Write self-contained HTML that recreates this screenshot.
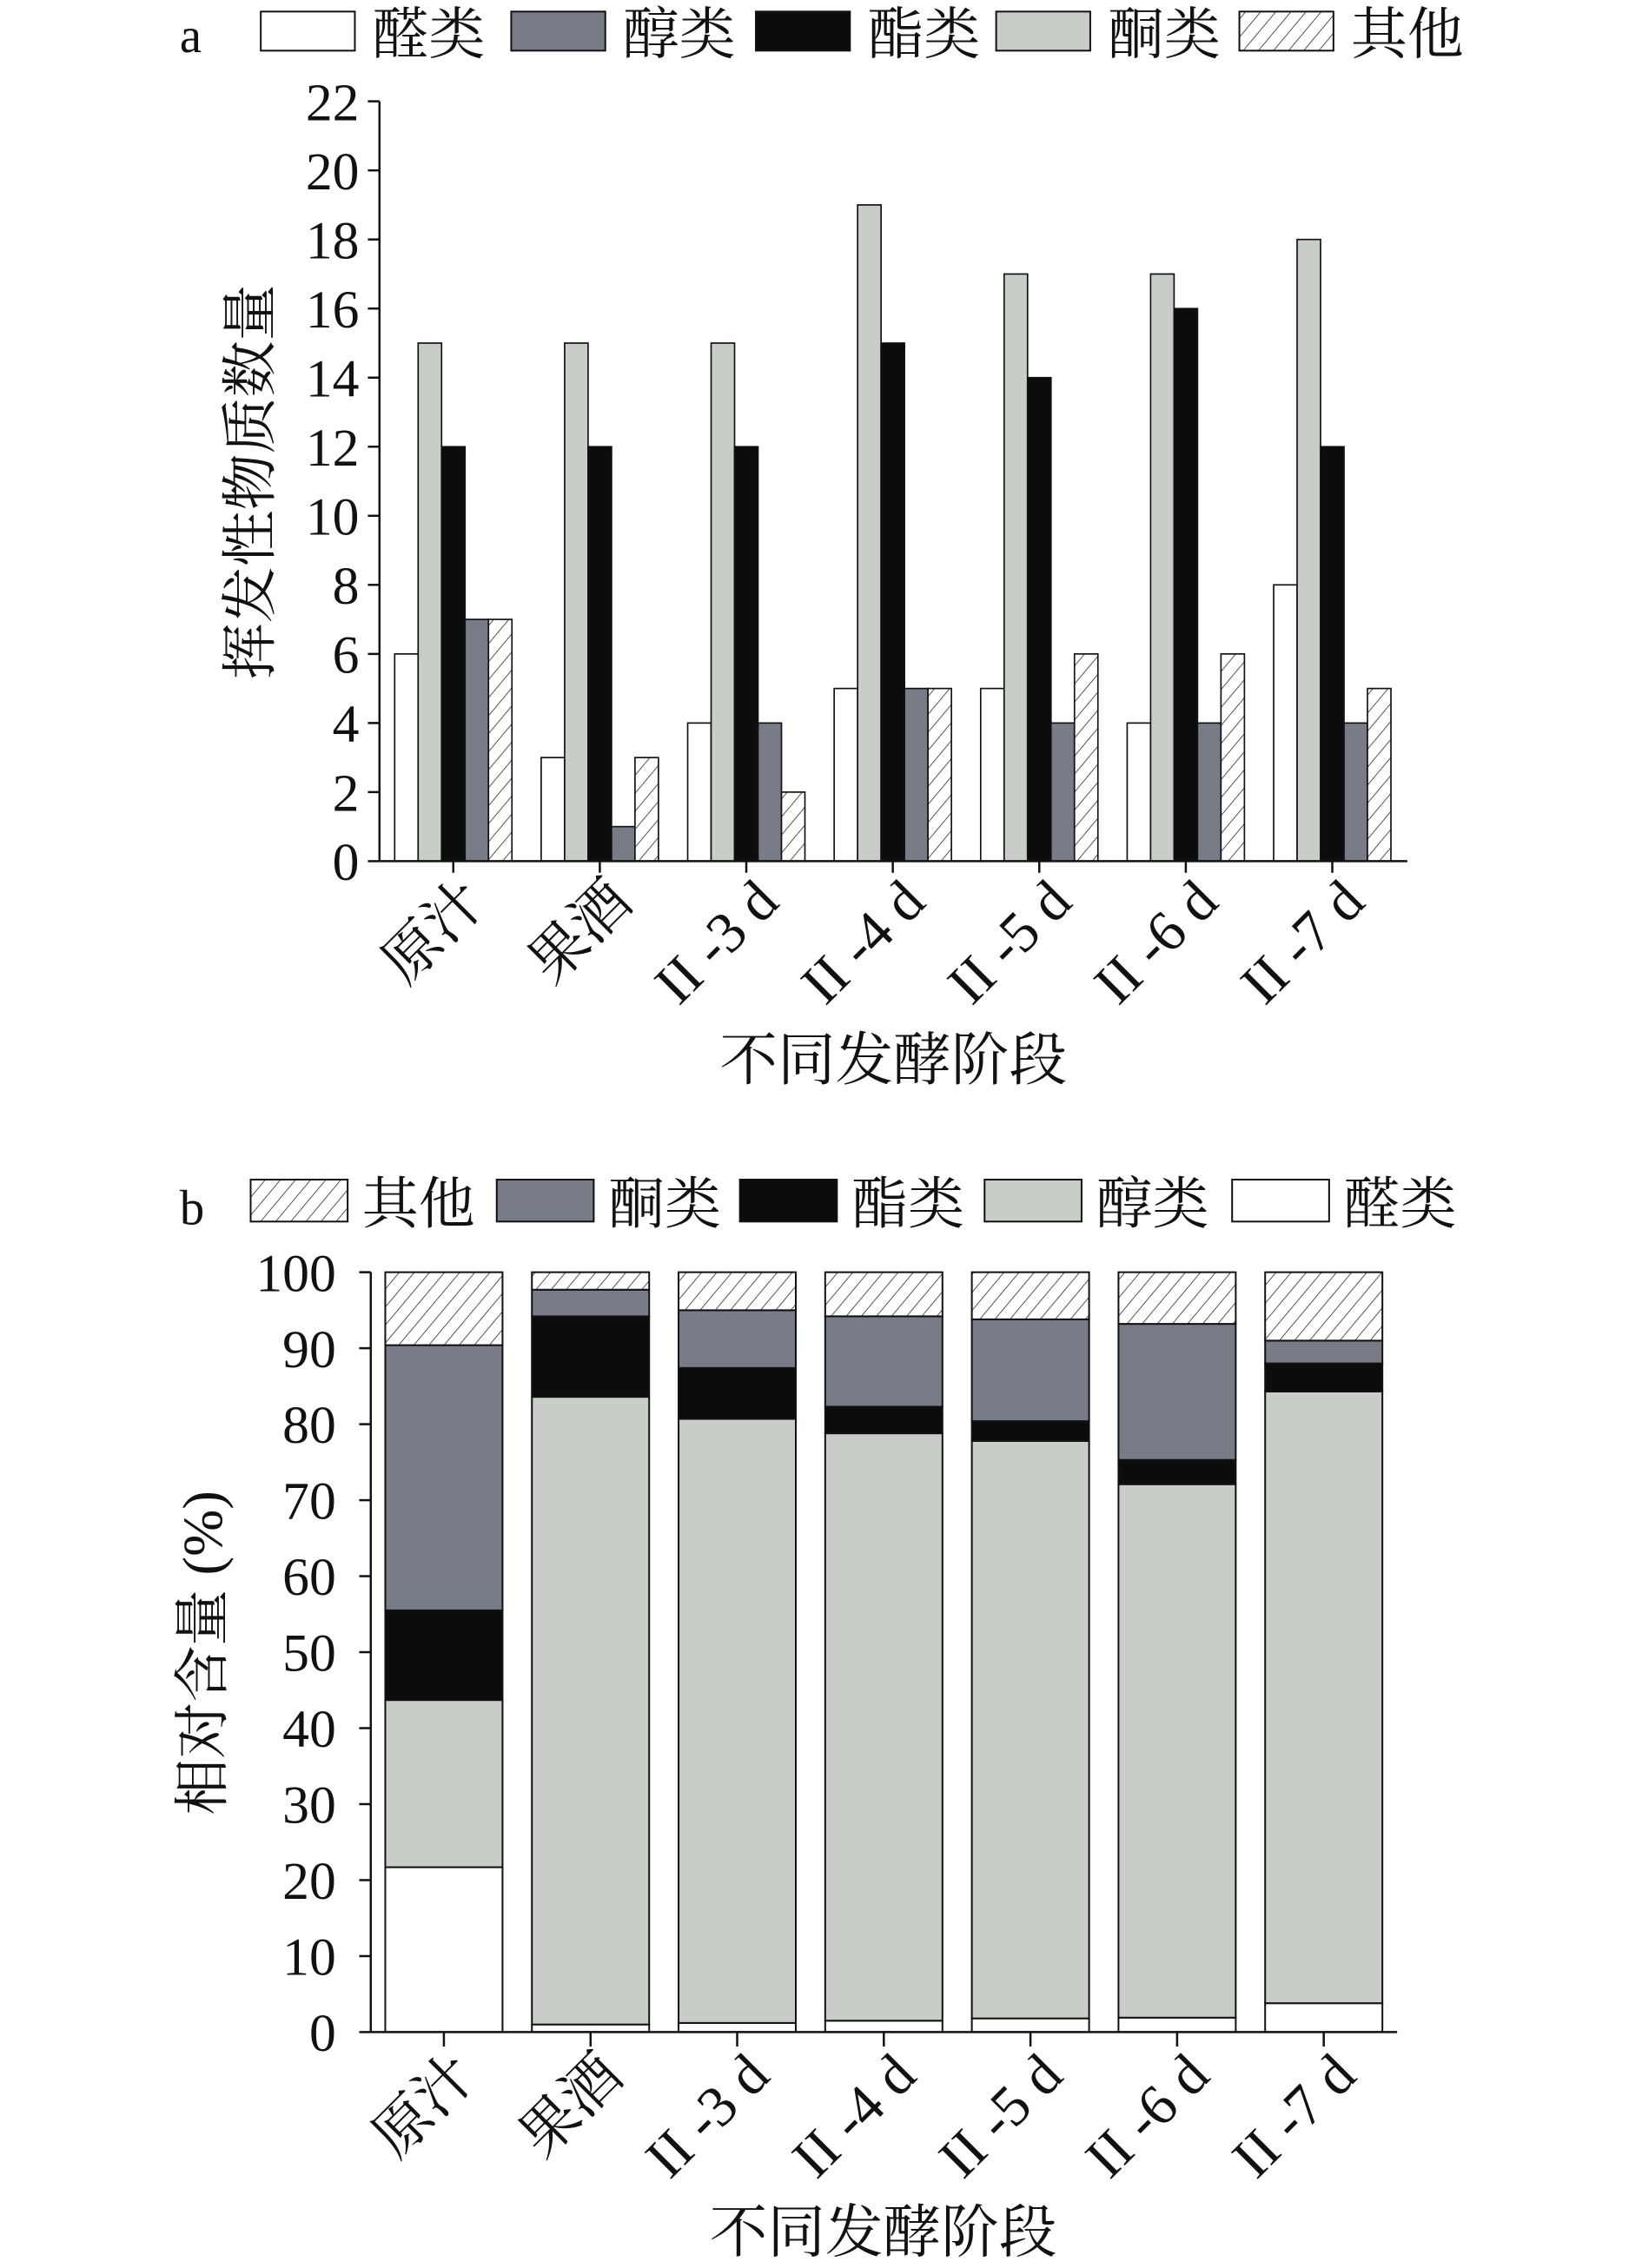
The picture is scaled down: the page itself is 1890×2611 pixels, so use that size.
<!DOCTYPE html>
<html><head><meta charset="utf-8"><style>
html,body{margin:0;padding:0;background:#fff;}
svg{display:block;}
text{font-family:"Liberation Serif","Noto Serif CJK SC","Noto Sans CJK SC",serif;fill:#111;}
</style></head><body>
<svg id="fig" width="1890" height="2611" viewBox="0 0 1134 1567" xmlns="http://www.w3.org/2000/svg">
<defs>
<pattern id="hatch" patternUnits="userSpaceOnUse" width="8" height="8" patternTransform="rotate(40)">
<rect width="8" height="8" fill="#fff"/><line x1="0" y1="0" x2="0" y2="8" stroke="#333" stroke-width="1"/>
</pattern>
</defs>
<g id="chartA"></g>
<g id="chartB"></g>
</svg>
<script>
const categories = ["原汁","果酒","II -3 d","II -4 d","II -5 d","II -6 d","II -7 d"];
// chart a: counts
const aAldehyde = [6,3,4,5,5,4,8];
const aKetone = [15,15,15,19,17,17,18];
const aEster = [12,12,12,15,14,16,12];
const aAlcohol = [7,1,4,5,4,4,4];
const aOther = [7,3,2,5,6,6,5];
const aTicks = [0,2,4,6,8,10,12,14,16,18,20,22];
// chart b: relative content (%)
const bAldehyde = [21.7,1.0,1.2,1.5,1.8,1.9,3.8];
const bAlcohol = [22.0,82.6,79.5,77.3,76.0,70.2,80.5];
const bEster = [11.8,10.6,6.7,3.5,2.6,3.2,3.7];
const bKetone = [34.9,3.5,7.6,11.9,13.4,17.9,3.0];
const bOther = [9.6,2.3,5.0,5.8,6.2,6.8,9.0];
const bTicks = [0,10,20,30,40,50,60,70,80,90,100];

const NS="http://www.w3.org/2000/svg";
const C={white:"#ffffff",dark:"#777c86",black:"#0c0c0c",light:"#c9cdc7",hatch:"url(#hatch)"};
function mk(parent,tag,attrs,txt){const e=document.createElementNS(NS,tag);for(const k in attrs)e.setAttribute(k,attrs[k]);if(txt!==undefined)e.textContent=txt;parent.appendChild(e);return e;}

// ---------- Chart A ----------
const A=document.getElementById('chartA');
const aX0=262,aX1=972,aY0=595,aY1=70,aMax=22;
const ay=v=>aY0-(v/aMax)*(aY0-aY1);
const aStep=101.2,aFirst=313;
const ax=i=>aFirst+i*aStep;
const aSeries=[[aAldehyde,C.white,"aldehyde"],[aKetone,C.light,"ketone"],[aEster,C.black,"ester"],[aAlcohol,C.dark,"alcohol"],[aOther,C.hatch,"other"]];
const bw=16.2;
aSeries.forEach((s,si)=>{s[0].forEach((v,i)=>{
 const x=ax(i)-2.5*bw+si*bw;
 const r=mk(A,'rect',{x:x,y:ay(v),width:bw,height:ay(0)-ay(v),fill:s[1],stroke:"#111","stroke-width":1});
 
 
});});
let l=mk(A,'line',{x1:aX0,y1:aY1,x2:aX0,y2:aY0,stroke:"#111","stroke-width":1.5});

l=mk(A,'line',{x1:aX0,y1:aY0,x2:aX1,y2:aY0,stroke:"#111","stroke-width":1.5});

aTicks.forEach(t=>{
 mk(A,'line',{x1:aX0-8,y1:ay(t),x2:aX0,y2:ay(t),stroke:"#111","stroke-width":1.5});
 const tx=mk(A,'text',{x:aX0-14,y:ay(t)+13,"text-anchor":"end","font-size":37},String(t));
 
});
categories.forEach((c,i)=>{
 mk(A,'line',{x1:ax(i),y1:aY0,x2:ax(i),y2:aY0+8,stroke:"#111","stroke-width":1.5});
 const tx=mk(A,'text',{transform:`translate(${ax(i)+24},${aY0+30}) rotate(-45)`,"text-anchor":"end","font-size":40},c);
 
});
let t=mk(A,'text',{transform:"translate(186,333) rotate(-90)","text-anchor":"middle","font-size":39},"挥发性物质数量");

t=mk(A,'text',{x:617,y:746,"text-anchor":"middle","font-size":40},"不同发酵阶段");

t=mk(A,'text',{x:124,y:36,"font-size":34},"a");

[[180,C.white,"醛类"],[353,C.dark,"醇类"],[522,C.black,"酯类"],[688,C.light,"酮类"],[856,C.hatch,"其他"]].forEach(e=>{
 const g=mk(A,'g',{});
 
 mk(g,'rect',{x:e[0],y:8,width:65,height:27,fill:e[1],stroke:"#111","stroke-width":1.2});
 mk(g,'text',{x:e[0]+77,y:37,"font-size":39},e[2]);
});

// ---------- Chart B ----------
const B=document.getElementById('chartB');
const bX0=256,bX1=965,bY0=1404,bY1=879;
const by=v=>bY0-(v/100)*(bY0-bY1);
const bFirst=306.5,bStep=101.3,bW=81;
const bx=i=>bFirst+i*bStep;
const bSeries=[[bAldehyde,C.white,"aldehyde"],[bAlcohol,C.light,"alcohol"],[bEster,C.black,"ester"],[bKetone,C.dark,"ketone"],[bOther,C.hatch,"other"]];
const cum=categories.map(()=>0);
bSeries.forEach(s=>{s[0].forEach((v,i)=>{
 const r=mk(B,'rect',{x:bx(i)-bW/2,y:by(cum[i]+v),width:bW,height:by(cum[i])-by(cum[i]+v),fill:s[1],stroke:"#111","stroke-width":1.2});
 
 
 cum[i]+=v;
});});
l=mk(B,'line',{x1:bX0,y1:bY1,x2:bX0,y2:bY0,stroke:"#111","stroke-width":1.5});

l=mk(B,'line',{x1:bX0,y1:bY0,x2:bX1,y2:bY0,stroke:"#111","stroke-width":1.5});

bTicks.forEach(v=>{
 mk(B,'line',{x1:bX0-8,y1:by(v),x2:bX0,y2:by(v),stroke:"#111","stroke-width":1.5});
 const tx=mk(B,'text',{x:bX0-24,y:by(v)+13,"text-anchor":"end","font-size":37},String(v));
 
});
categories.forEach((c,i)=>{
 mk(B,'line',{x1:bx(i),y1:bY0,x2:bx(i),y2:bY0+10,stroke:"#111","stroke-width":1.5});
 const tx=mk(B,'text',{transform:`translate(${bx(i)+24},${bY0+32}) rotate(-45)`,"text-anchor":"end","font-size":40},c);
 
});
t=mk(B,'text',{transform:"translate(153,1142) rotate(-90)","text-anchor":"middle","font-size":39},"相对含量 (%)");

t=mk(B,'text',{x:610,y:1556,"text-anchor":"middle","font-size":40},"不同发酵阶段");

t=mk(B,'text',{x:124,y:846,"font-size":34},"b");

[[173,C.hatch,"其他"],[343,C.dark,"酮类"],[511,C.black,"酯类"],[680,C.light,"醇类"],[851,C.white,"醛类"]].forEach(e=>{
 const g=mk(B,'g',{});
 
 mk(g,'rect',{x:e[0],y:815,width:67,height:29,fill:e[1],stroke:"#111","stroke-width":1.2});
 mk(g,'text',{x:e[0]+77,y:845,"font-size":39},e[2]);
});
</script>
</body></html>
